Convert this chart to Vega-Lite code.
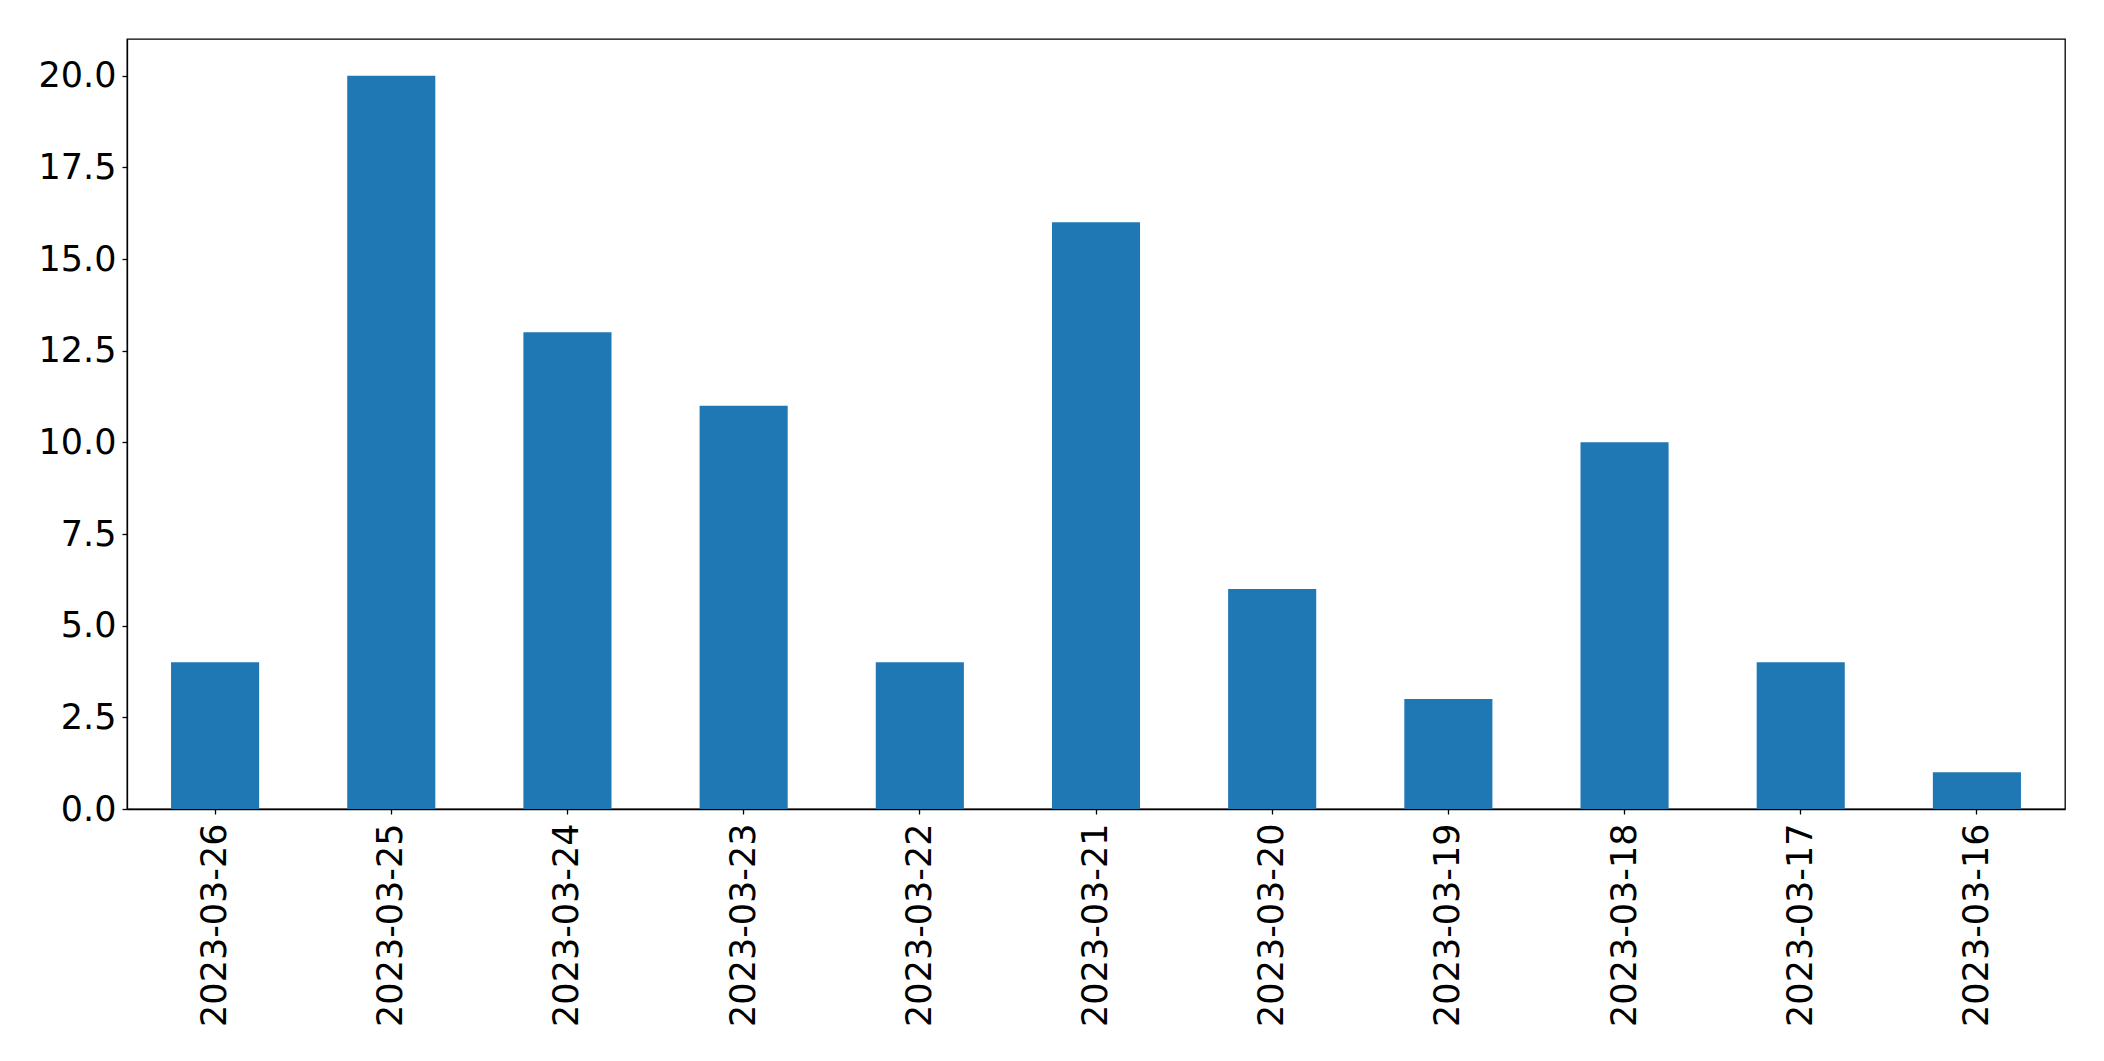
{
  "$schema": "https://vega.github.io/schema/vega-lite/v6.json",
  "width": 1938,
  "height": 770,
  "autosize": {"type": "none"},
  "padding": {"left": 127, "top": 39, "right": 39, "bottom": 252},
  "background": "white",
  "config": {
    "view": {"stroke": "black", "strokeWidth": 1.3},
    "font": "DejaVu Sans"
  },
  "data": {
    "values": [
      {"date": "2023-03-26", "count": 4},
      {"date": "2023-03-25", "count": 20},
      {"date": "2023-03-24", "count": 13},
      {"date": "2023-03-23", "count": 11},
      {"date": "2023-03-22", "count": 4},
      {"date": "2023-03-21", "count": 16},
      {"date": "2023-03-20", "count": 6},
      {"date": "2023-03-19", "count": 3},
      {"date": "2023-03-18", "count": 10},
      {"date": "2023-03-17", "count": 4},
      {"date": "2023-03-16", "count": 1}
    ]
  },
  "mark": {"type": "bar", "color": "#1f77b4"},
  "encoding": {
    "x": {
      "field": "date",
      "type": "nominal",
      "sort": null,
      "scale": {"paddingInner": 0.5, "paddingOuter": 0.25},
      "axis": {
        "title": null,
        "labelAngle": -90,
        "labelFontSize": 35,
        "labelFont": "DejaVu Sans",
        "labelColor": "black",
        "labelPadding": 9,
        "labelLimit": 0,
        "tickSize": 5,
        "tickColor": "black",
        "tickWidth": 1.3,
        "domainColor": "black",
        "domainWidth": 1.3,
        "grid": false
      }
    },
    "y": {
      "field": "count",
      "type": "quantitative",
      "scale": {"domain": [0, 21], "nice": false},
      "axis": {
        "title": null,
        "values": [0, 2.5, 5, 7.5, 10, 12.5, 15, 17.5, 20],
        "format": ".1f",
        "labelFontSize": 35,
        "labelFont": "DejaVu Sans",
        "labelColor": "black",
        "labelPadding": 6,
        "tickSize": 5,
        "tickColor": "black",
        "tickWidth": 1.3,
        "domainColor": "black",
        "domainWidth": 1.3,
        "grid": false
      }
    }
  }
}
